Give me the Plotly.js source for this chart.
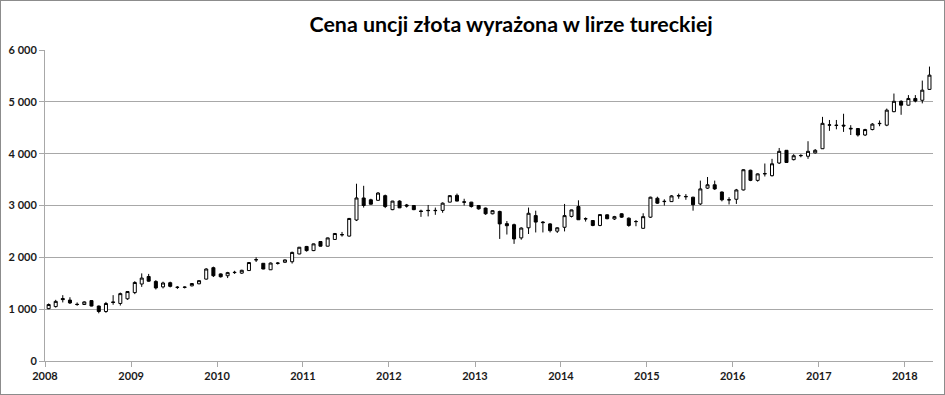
<!DOCTYPE html>
<html>
<head>
<meta charset="utf-8">
<script src="https://cdn.plot.ly/plotly-3.0.1.min.js"></script>
<style>
  html, body { margin: 0; padding: 0; background: #fff; }
  #chart { width: 943px; height: 393px; border: 1px solid #8c8c8c; }
</style>
</head>
<body>
<div id="chart"></div>
<script>
// Monthly candles, Jan 2008 – Apr 2018 (TRY per troy ounce)
const months = [
  "2008-01","2008-02","2008-03","2008-04","2008-05","2008-06","2008-07","2008-08","2008-09","2008-10","2008-11","2008-12",
  "2009-01","2009-02","2009-03","2009-04","2009-05","2009-06","2009-07","2009-08","2009-09","2009-10","2009-11","2009-12",
  "2010-01","2010-02","2010-03","2010-04","2010-05","2010-06","2010-07","2010-08","2010-09","2010-10","2010-11","2010-12",
  "2011-01","2011-02","2011-03","2011-04","2011-05","2011-06","2011-07","2011-08","2011-09","2011-10","2011-11","2011-12",
  "2012-01","2012-02","2012-03","2012-04","2012-05","2012-06","2012-07","2012-08","2012-09","2012-10","2012-11","2012-12",
  "2013-01","2013-02","2013-03","2013-04","2013-05","2013-06","2013-07","2013-08","2013-09","2013-10","2013-11","2013-12",
  "2014-01","2014-02","2014-03","2014-04","2014-05","2014-06","2014-07","2014-08","2014-09","2014-10","2014-11","2014-12",
  "2015-01","2015-02","2015-03","2015-04","2015-05","2015-06","2015-07","2015-08","2015-09","2015-10","2015-11","2015-12",
  "2016-01","2016-02","2016-03","2016-04","2016-05","2016-06","2016-07","2016-08","2016-09","2016-10","2016-11","2016-12",
  "2017-01","2017-02","2017-03","2017-04","2017-05","2017-06","2017-07","2017-08","2017-09","2017-10","2017-11","2017-12",
  "2018-01","2018-02","2018-03","2018-04"
];

const openVals = [
  1010,1050,1205,1175,1095,1090,1165,1060,955,1140,1110,1200,
  1320,1485,1630,1535,1430,1510,1425,1420,1450,1490,1580,1800,
  1680,1645,1705,1695,1745,1950,1885,1760,1890,1905,1915,2065,
  2210,2130,2305,2215,2345,2440,2410,2720,3145,3110,3100,3190,
  2920,3085,3010,3000,2895,2900,2900,2905,3065,3195,3070,3065,
  3000,2950,2840,2885,2650,2630,2375,2570,2805,2680,2645,2505,
  2580,2790,2980,2740,2710,2615,2820,2740,2840,2755,2690,2560,
  2775,3140,3075,3075,3185,3175,3160,3030,3335,3400,3260,3110,
  3120,3300,3680,3485,3610,3575,3820,4065,3885,3960,3950,4015,
  4095,4550,4550,4550,4490,4485,4360,4465,4585,4550,4810,5010,
  4935,5065,5030,5240
];
const highVals = [
  1110,1180,1270,1230,1130,1150,1175,1070,1140,1270,1320,1350,
  1540,1690,1680,1560,1530,1530,1445,1440,1500,1560,1790,1820,
  1690,1720,1740,1760,1910,2000,1890,1900,1910,1960,2110,2200,
  2220,2265,2310,2380,2470,2490,2760,3420,3380,3130,3260,3210,
  3090,3100,3030,3010,2920,3010,2960,3060,3200,3230,3130,3070,
  3010,2960,2910,2900,2700,2650,2580,2960,2900,2700,2660,2580,
  3030,2920,3100,2770,2720,2830,2830,2800,2850,2770,2720,2850,
  3170,3170,3120,3200,3230,3220,3170,3480,3550,3480,3270,3160,
  3320,3700,3690,3620,3810,3900,4110,4070,3990,3990,4240,4090,
  4710,4650,4650,4770,4550,4490,4480,4590,4640,4870,5160,5030,
  5130,5130,5410,5680
];
const lowVals = [
  1000,1030,1130,1100,1065,1080,1055,920,930,1085,1070,1180,
  1290,1430,1530,1380,1400,1420,1390,1400,1440,1480,1570,1620,
  1610,1600,1680,1680,1740,1910,1770,1755,1860,1890,1880,2060,
  2110,2120,2210,2210,2340,2400,2400,2700,2960,3020,3090,2950,
  2910,2950,2960,2910,2780,2790,2820,2860,3060,3080,3000,2960,
  2920,2820,2830,2355,2440,2260,2340,2450,2480,2480,2480,2470,
  2500,2770,2720,2690,2600,2600,2735,2720,2760,2590,2600,2550,
  2760,3030,3000,3070,3130,3110,2900,3010,3320,3300,3080,3020,
  3030,3290,3470,3460,3560,3560,3800,3820,3870,3930,3900,4000,
  4090,4440,4470,4420,4360,4330,4340,4450,4530,4530,4800,4750,
  4930,4990,4970,5230
];
const closeVals = [
  1090,1150,1185,1120,1090,1140,1060,955,1110,1130,1300,1340,
  1515,1600,1540,1410,1505,1440,1420,1425,1495,1550,1775,1645,
  1625,1705,1710,1750,1900,1955,1775,1890,1885,1950,2095,2195,
  2130,2260,2215,2375,2460,2435,2750,3145,3000,3025,3240,2980,
  3085,2955,2990,2920,2885,2905,2905,3045,3190,3085,3065,2980,
  2935,2840,2900,2645,2610,2355,2565,2850,2680,2670,2515,2570,
  2805,2915,2725,2745,2615,2825,2745,2785,2775,2615,2690,2785,
  3160,3045,3080,3185,3190,3170,3015,3320,3400,3320,3110,3110,
  3300,3690,3485,3610,3615,3805,4045,3830,3960,3965,4045,4065,
  4585,4555,4545,4535,4480,4360,4465,4570,4580,4840,5010,4935,
  5065,5015,5225,5515
];

const yTicks = [0, 1000, 2000, 3000, 4000, 5000, 6000];
const titleText = "Cena uncji złota wyrażona w lirze tureckiej";

const tickFont = { family: "Lato, 'Open Sans', sans-serif", size: 11, color: "#1a1a1a", weight: "bold" };
const gridGray = "#a8a8a8";

const trace = {
  type: "candlestick",
  x: months,
  open: openVals,
  high: highVals,
  low: lowVals,
  close: closeVals,
  xperiod: "M1",
  xperiodalignment: "middle",
  increasing: { fillcolor: "#ffffff", line: { color: "#000000", width: 1 } },
  decreasing: { fillcolor: "#000000", line: { color: "#000000", width: 1 } },
  whiskerwidth: 0,
  showlegend: false,
  hoverinfo: "x+y"
};

const layout = {
  width: 943,
  height: 393,
  margin: { l: 44, r: 11, t: 49, b: 33, pad: 0 },
  paper_bgcolor: "#ffffff",
  plot_bgcolor: "#ffffff",
  separators: ", ",
  boxgap: 0.38,
  showlegend: false,
  title: {
    text: titleText,
    font: { family: "Lato, 'Open Sans', sans-serif", size: 21.4, color: "#000000", weight: "bold" },
    xref: "container", x: 0.541, xanchor: "center",
    yref: "container", y: 0.939, yanchor: "middle"
  },
  xaxis: {
    type: "date",
    range: ["2008-01-01", "2018-05-01"],
    tick0: "2008-01-01",
    dtick: "M12",
    tickformat: "%Y",
    ticks: "outside",
    ticklen: 5,
    tickcolor: gridGray,
    showline: true,
    linecolor: gridGray,
    linewidth: 1,
    showgrid: false,
    zeroline: false,
    tickfont: tickFont,
    rangeslider: { visible: false },
    fixedrange: true
  },
  yaxis: {
    range: [0, 6000],
    tickvals: yTicks,
    tickformat: ",d",
    ticks: "outside",
    ticklen: 5,
    tickcolor: gridGray,
    showline: true,
    linecolor: gridGray,
    linewidth: 1,
    showgrid: true,
    gridcolor: gridGray,
    gridwidth: 1,
    zeroline: false,
    tickfont: tickFont,
    fixedrange: true
  }
};

Plotly.newPlot("chart", [trace], layout, { displayModeBar: false, staticPlot: true });
</script>
</body>
</html>
